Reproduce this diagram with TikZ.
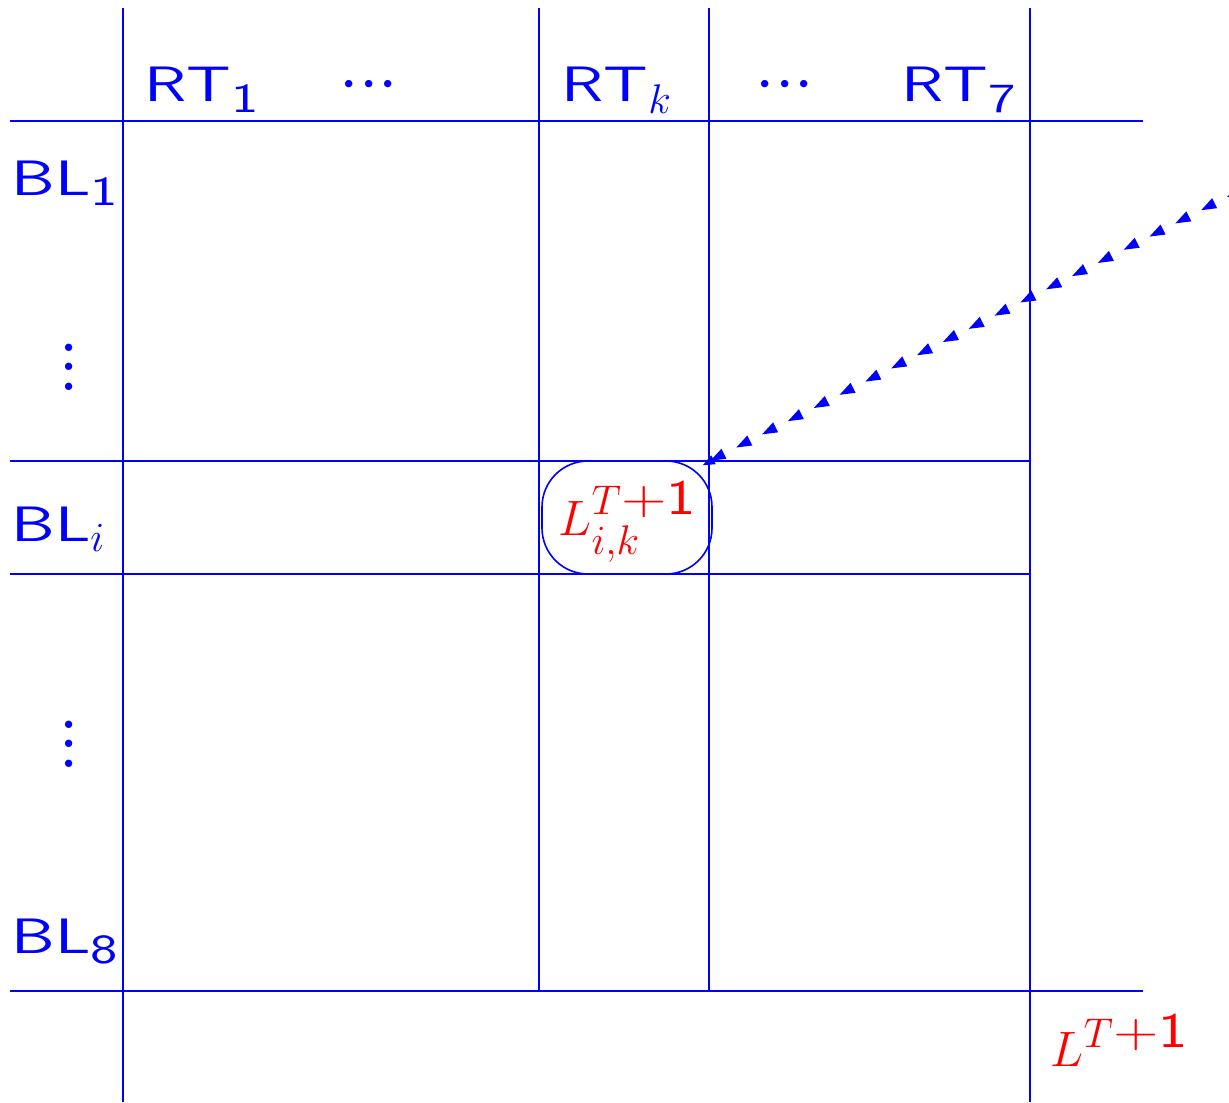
\documentclass[tikz,border=0pt]{standalone}
\usepackage{amsmath}
\usepackage{graphicx}
\usetikzlibrary{decorations.markings,calc}
\definecolor{gblue}{RGB}{0,0,255}
\definecolor{gred}{RGB}{255,0,0}
\newcommand\wsf[1]{\scalebox{1.4}[1]{\sffamily #1}}
\newcommand\supsf[1]{\mbox{\scalebox{1.25}[1]{\sffamily #1}}}
\newcommand\hdotsx{\scalebox{1.4}{${\cdotp}{\cdotp}{\cdotp}$}}
\newcommand\vdotsx{\rotatebox{90}{\scalebox{1.4}{${\cdotp}{\cdotp}{\cdotp}$}}}
\begin{document}
\begin{tikzpicture}[x=0.5pt,y=-0.5pt,
  gridline/.style={gblue,line width=1pt},
  lab/.style={text=gblue,font=\Huge,inner sep=0pt,anchor=base west},
  dotlab/.style={text=gblue,font=\Huge,inner sep=0pt},
  mathlab/.style={text=gred,font=\Huge,inner sep=0pt,anchor=base west},
  cellbox/.style={draw=gblue,line width=0.8pt,rounded corners=23pt,minimum width=85pt,minimum height=56.5pt,inner sep=0pt},
  tri/.style={gblue}]
\useasboundingbox (0,0) rectangle (1229,1102);
% grid
\draw[gridline] (10,121) -- (1143,121);
\draw[gridline] (10,461) -- (1030,461);
\draw[gridline] (10,574) -- (1030,574);
\draw[gridline] (10,991) -- (1143,991);
\draw[gridline] (123,8) -- (123,1102);
\draw[gridline] (539,8) -- (539,991);
\draw[gridline] (709,8) -- (709,991);
\draw[gridline] (1030,8) -- (1030,1102);
% column labels
\node[lab] (rt1) at (144,102) {\wsf{RT}$_{\text{\wsf{1}}}$};
\node[dotlab] (hd1) at (369,86) {\hdotsx};
\node[lab] (rtk) at (561,102) {\wsf{RT}$_{k}$};
\node[dotlab] (hd2) at (785,86) {\hdotsx};
\node[lab] (rt7) at (901,102) {\wsf{RT}$_{\text{\wsf{7}}}$};
% row labels
\node[lab] (bl1) at (11,195) {\wsf{BL}$_{\text{\wsf{1}}}$};
\node[dotlab] (vd1) at (71,367) {\vdotsx};
\node[lab] (bli) at (11,541) {\wsf{BL}$_{i}$};
\node[dotlab] (vd2) at (71,744) {\vdotsx};
\node[lab] (bl8) at (11,953) {\wsf{BL}$_{\text{\wsf{8}}}$};
% cell
\node[cellbox] (cell) at (627,517.5) {};
\node[mathlab] (lik) at (558,535) {$L^{T\supsf{+1}}_{i,k}$};
\node[mathlab] (lt) at (1050,1066) {$L^{T\supsf{+1}}$};
% arrow
\coordinate (s) at (1236,193);
\coordinate (e) at ($(cell.north east)+(-10,5)$);
\path[postaction={decorate},decoration={markings,
  mark=between positions 0 and 0.97 step 14.5pt with {\pgftransformresetnontranslations \fill[tri] (-9,4) -- (7,2) -- (2,-8) -- cycle;},
  mark=at position 1 with {\fill[tri] (0,0) -- (-12,5) -- (-12,-5) -- cycle;}}] (s) -- (e);
\end{tikzpicture}
\end{document}
